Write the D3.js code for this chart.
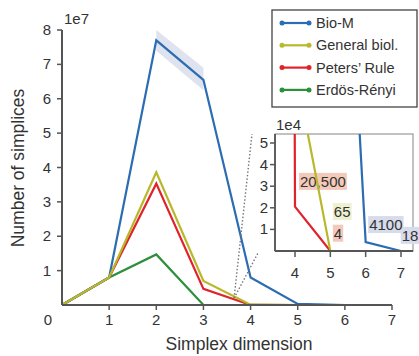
<!DOCTYPE html>
<html>
<head>
<meta charset="utf-8">
<script src="https://cdn.jsdelivr.net/npm/d3@7"></script>
<style>
  body { margin: 0; background: #fff; }
  svg text { font-family: 'Liberation Sans', Arial, sans-serif; fill: #333; }
</style>
</head>
<body>
<div id="chart"></div>
<script>
const dims = [0, 1, 2, 3, 4, 5, 6, 7];
const seriesNames = ['Bio-M', 'General biol.', 'Peters\u2019 Rule', 'Erd\u00f6s-R\u00e9nyi'];
const seriesColors = ['#2b6cb3', '#b8b82c', '#e0232b', '#2b8f3b'];
// raw simplex counts per dimension
const bioM = [0, 8.0e6, 7.7e7, 6.55e7, 8.0e6, 3.0e5, 4100, 18];
const generalBiol = [0, 8.0e6, 3.86e7, 7.0e6, 8.5e4, 65];
const petersRule = [0, 8.0e6, 3.53e7, 4.7e6, 20500, 4];
const erdosRenyi = [0, 8.0e6, 1.47e7, 0, 0];
// spread around Bio-M at dims 2 and 3
const bandDims = [2, 3];
const bioMLow = [7.4e7, 6.25e7];
const bioMHigh = [8.0e7, 6.9e7];
const yTicks = [1, 2, 3, 4, 5, 6, 7, 8];
const xTicks = [1, 2, 3, 4, 5, 6, 7];
const insetXTicks = [4, 5, 6, 7];
const insetYTicks = [1, 2, 3, 4, 5];
const insetNotes = [
  { text: '20,500', x: 4.14, y: 3.2, bg: '#f3c9b9' },
  { text: '65', x: 5.1, y: 1.8, bg: '#eef0cf' },
  { text: '4', x: 5.1, y: 0.8, bg: '#f3c9b9' },
  { text: '4100', x: 6.1, y: 1.2, bg: '#d6dcec' },
  { text: '18', x: 7.02, y: 0.7, bg: '#d6dcec' }
];

const drawChart = (id) => {
  const width = 419;
  const height = 356;
  const axisColor = '#555';

  const svg = d3.select(`#${id}`)
    .append('svg')
    .attr('width', width)
    .attr('height', height);

  const x = d3.scaleLinear().domain([0, 7]).range([62, 392]);
  const y = d3.scaleLinear().domain([0, 8]).range([305, 30]);

  const series = [
    { name: seriesNames[0], color: seriesColors[0], values: bioM },
    { name: seriesNames[1], color: seriesColors[1], values: generalBiol },
    { name: seriesNames[2], color: seriesColors[2], values: petersRule },
    { name: seriesNames[3], color: seriesColors[3], values: erdosRenyi }
  ];
  const drawOrder = [3, 2, 0, 1];

  // shaded band
  const band = d3.area()
    .x((d, i) => x(bandDims[i]))
    .y0((d, i) => y(bioMLow[i] / 1e7))
    .y1((d) => y(d / 1e7));
  svg.append('path')
    .attr('d', band(bioMHigh))
    .attr('fill', '#dfe3ef');

  // main lines
  const line = d3.line()
    .x((d, i) => x(dims[i]))
    .y((d) => y(d / 1e7));
  drawOrder.forEach((k) => {
    svg.append('path')
      .attr('d', line(series[k].values))
      .attr('fill', 'none')
      .attr('stroke', series[k].color)
      .attr('stroke-width', 2.2)
      .attr('stroke-linejoin', 'miter');
  });

  // main axes
  svg.append('line')
    .attr('x1', x(0)).attr('x2', x(7))
    .attr('y1', y(0)).attr('y2', y(0))
    .attr('stroke', axisColor).attr('stroke-width', 2);
  svg.append('line')
    .attr('x1', x(0)).attr('x2', x(0))
    .attr('y1', y(0)).attr('y2', y(8))
    .attr('stroke', axisColor).attr('stroke-width', 2);

  svg.selectAll('.xtick')
    .data(xTicks)
    .enter()
    .append('line')
    .attr('x1', (d) => x(d)).attr('x2', (d) => x(d))
    .attr('y1', y(0)).attr('y2', y(0) + 5)
    .attr('stroke', axisColor).attr('stroke-width', 1.5);
  svg.selectAll('.xlabel')
    .data(xTicks)
    .enter()
    .append('text')
    .text((d) => d)
    .attr('x', (d) => x(d))
    .attr('y', 325)
    .attr('text-anchor', 'middle')
    .attr('font-size', 15);
  svg.append('text').text('0')
    .attr('x', 48).attr('y', 325)
    .attr('text-anchor', 'middle').attr('font-size', 15);

  svg.selectAll('.ytick')
    .data(yTicks)
    .enter()
    .append('line')
    .attr('x1', x(0) - 5).attr('x2', x(0))
    .attr('y1', (d) => y(d)).attr('y2', (d) => y(d))
    .attr('stroke', axisColor).attr('stroke-width', 1.5);
  svg.selectAll('.ylabel')
    .data(yTicks)
    .enter()
    .append('text')
    .text((d) => d)
    .attr('x', 51)
    .attr('y', (d) => y(d) + 5)
    .attr('text-anchor', 'end')
    .attr('font-size', 15);

  svg.append('text').text('1e7')
    .attr('x', 64).attr('y', 24).attr('font-size', 15);
  svg.append('text').text('Simplex dimension')
    .attr('x', 239).attr('y', 350)
    .attr('text-anchor', 'middle').attr('font-size', 17.5);
  svg.append('text').text('Number of simplices')
    .attr('transform', 'translate(24, 168) rotate(-90)')
    .attr('text-anchor', 'middle').attr('font-size', 17.5);

  // inset
  const box = { left: 275, right: 413, top: 134, bottom: 251 };
  const xi = d3.scaleLinear().domain([4, 7]).range([295, 401]);
  const yi = d3.scaleLinear().domain([0, 5]).range([box.bottom, 143]);

  // dotted zoom guides
  const gx = x(3.65);
  const gy = y(0.2);
  [[box.left - 23, box.top], [box.left - 17, box.bottom + 2]].forEach((p) => {
    svg.append('line')
      .attr('x1', gx).attr('y1', gy)
      .attr('x2', p[0]).attr('y2', p[1])
      .attr('stroke', '#777')
      .attr('stroke-width', 1.4)
      .attr('stroke-dasharray', '1.5,2');
  });

  svg.append('rect')
    .attr('x', box.left).attr('y', box.top)
    .attr('width', box.right - box.left)
    .attr('height', box.bottom - box.top)
    .attr('fill', '#fff')
    .attr('stroke', '#999')
    .attr('stroke-width', 1.2);

  svg.append('clipPath').attr('id', 'inset-clip')
    .append('rect')
    .attr('x', box.left).attr('y', box.top)
    .attr('width', box.right - box.left)
    .attr('height', box.bottom - box.top);

  const notesG = svg.append('g');
  insetNotes.forEach((n) => {
    const t = notesG.append('text')
      .text(n.text)
      .attr('x', xi(n.x))
      .attr('y', yi(n.y) + 5)
      .attr('font-size', 15);
    const bb = t.node().getBBox();
    notesG.insert('rect', 'text')
      .attr('x', bb.x - 1).attr('y', bb.y)
      .attr('width', bb.width + 2).attr('height', bb.height)
      .attr('fill', n.bg);
  });

  const insetG = svg.append('g').attr('clip-path', 'url(#inset-clip)');
  const insetLine = d3.line()
    .x((d, i) => xi(dims[i]))
    .y((d) => yi(d / 1e4));
  drawOrder.forEach((k) => {
    insetG.append('path')
      .attr('d', insetLine(series[k].values))
      .attr('fill', 'none')
      .attr('stroke', series[k].color)
      .attr('stroke-width', 2.2);
  });

  svg.append('line')
    .attr('x1', box.left).attr('x2', box.right)
    .attr('y1', box.bottom).attr('y2', box.bottom)
    .attr('stroke', axisColor).attr('stroke-width', 1.8);
  svg.append('line')
    .attr('x1', box.left).attr('x2', box.left)
    .attr('y1', box.top).attr('y2', box.bottom)
    .attr('stroke', axisColor).attr('stroke-width', 1.8);

  svg.selectAll('.ixtick')
    .data(insetXTicks)
    .enter()
    .append('line')
    .attr('x1', (d) => xi(d)).attr('x2', (d) => xi(d))
    .attr('y1', box.bottom).attr('y2', box.bottom + 6)
    .attr('stroke', axisColor).attr('stroke-width', 1.5);
  svg.selectAll('.ixlabel')
    .data(insetXTicks)
    .enter()
    .append('text')
    .text((d) => d)
    .attr('x', (d) => xi(d))
    .attr('y', 278)
    .attr('text-anchor', 'middle')
    .attr('font-size', 15);
  svg.selectAll('.iytick')
    .data(insetYTicks)
    .enter()
    .append('line')
    .attr('x1', box.left - 5).attr('x2', box.left)
    .attr('y1', (d) => yi(d)).attr('y2', (d) => yi(d))
    .attr('stroke', axisColor).attr('stroke-width', 1.5);
  svg.selectAll('.iylabel')
    .data(insetYTicks)
    .enter()
    .append('text')
    .text((d) => d)
    .attr('x', 268)
    .attr('y', (d) => yi(d) + 5)
    .attr('text-anchor', 'end')
    .attr('font-size', 15);
  svg.append('text').text('1e4')
    .attr('x', 276).attr('y', 130).attr('font-size', 15);

  // legend
  const legend = svg.append('g');
  legend.append('rect')
    .attr('x', 272).attr('y', 10)
    .attr('width', 145).attr('height', 97)
    .attr('fill', '#fff')
    .attr('stroke', '#444')
    .attr('stroke-width', 1.3);
  series.forEach((s, i) => {
    const ly = 23 + i * 22.3;
    legend.append('line')
      .attr('x1', 282).attr('x2', 309)
      .attr('y1', ly).attr('y2', ly)
      .attr('stroke', s.color).attr('stroke-width', 2.2);
    [282, 309].forEach((cx) => {
      legend.append('circle')
        .attr('cx', cx).attr('cy', ly).attr('r', 2.5)
        .attr('fill', s.color);
    });
    legend.append('text')
      .text(s.name)
      .attr('x', 316).attr('y', ly + 5)
      .attr('font-size', 14.5);
  });
};

drawChart('chart');
</script>
</body>
</html>
